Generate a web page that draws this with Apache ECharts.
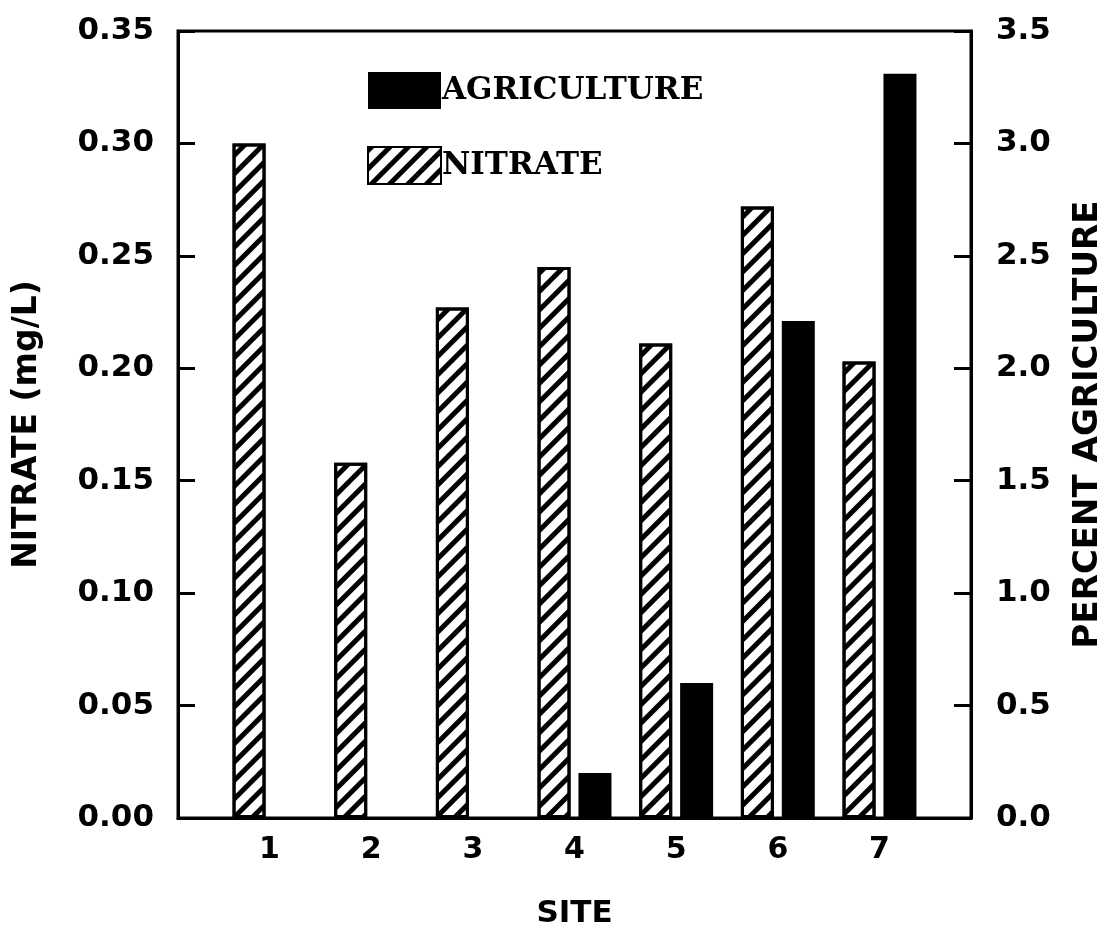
<!DOCTYPE html>
<html>
<head>
<meta charset="utf-8">
<script src="https://cdn.jsdelivr.net/npm/echarts@6/dist/echarts.min.js"></script>
<style>
  html, body { margin: 0; padding: 0; background: #fff; }
  #chart { width: 1113px; height: 934px; }
</style>
</head>
<body>
<div id="chart"></div>
<script>
var sites = [1, 2, 3, 4, 5, 6, 7];
var nitrate = [0.30, 0.158, 0.227, 0.245, 0.211, 0.272, 0.203];
var agriculture = [0, 0, 0, 0.2, 0.6, 2.21, 3.31];

var sansFont = 'DejaVu Sans';
var serifFont = 'DejaVu Serif';

var myChart = echarts.init(document.getElementById('chart'));

var hatch = {
    symbol: 'rect',
    symbolSize: 1,
    color: '#000',
    dashArrayX: [1, 0],
    dashArrayY: [5, 8],
    rotation: -Math.PI / 4
};

option = {
    backgroundColor: '#fff',
    animation: false,
    grid: {
        left: 178,
        right: 133,
        top: 31,
        bottom: 108,
        show: true,
        borderColor: '#000',
        borderWidth: 3
    },
    legend: {
        orient: 'vertical',
        left: 362,
        top: 67,
        icon: 'rect',
        itemWidth: 73,
        itemHeight: 37,
        itemGap: 37,
        data: ['AGRICULTURE', 'NITRATE'],
        textStyle: {
            fontFamily: serifFont,
            fontWeight: 'bold',
            fontSize: 31,
            color: '#000',
            padding: [0, 0, 0, -4]
        }
    },
    xAxis: {
        type: 'value',
        min: 0.1,
        max: 7.9,
        name: 'SITE',
        nameLocation: 'middle',
        nameGap: 80,
        nameTextStyle: { fontFamily: sansFont, fontWeight: 'bold', fontSize: 31, color: '#000' },
        axisLine: { lineStyle: { color: '#000', width: 3 } },
        axisTick: { show: false },
        splitLine: { show: false },
        axisLabel: {
            customValues: sites,
            margin: 17,
            fontFamily: sansFont,
            fontWeight: 'bold',
            fontSize: 30,
            color: '#000'
        }
    },
    yAxis: [
        {
            type: 'value',
            position: 'left',
            min: 0,
            max: 0.35,
            interval: 0.05,
            name: 'NITRATE (mg/L)',
            nameLocation: 'middle',
            nameGap: 134,
            nameTextStyle: { fontFamily: sansFont, fontWeight: 'bold', fontSize: 33, color: '#000' },
            axisLine: { show: true, lineStyle: { color: '#000', width: 3 } },
            axisTick: { show: true, inside: true, length: 17, lineStyle: { color: '#000', width: 3 } },
            splitLine: { show: false },
            axisLabel: {
                margin: 24,
                formatter: function (v) { return v.toFixed(2); },
                fontFamily: sansFont,
                fontWeight: 'bold',
                fontSize: 31,
                color: '#000'
            }
        },
        {
            type: 'value',
            position: 'right',
            min: 0,
            max: 3.5,
            interval: 0.5,
            name: 'PERCENT AGRICULTURE',
            nameLocation: 'middle',
            nameGap: 100,
            nameRotate: 90,
            nameTextStyle: { fontFamily: sansFont, fontWeight: 'bold', fontSize: 34, color: '#000' },
            axisLine: { show: true, lineStyle: { color: '#000', width: 3 } },
            axisTick: { show: true, inside: true, length: 17, lineStyle: { color: '#000', width: 3 } },
            splitLine: { show: false },
            axisLabel: {
                margin: 25,
                formatter: function (v) { return v.toFixed(1); },
                fontFamily: sansFont,
                fontWeight: 'bold',
                fontSize: 31,
                color: '#000'
            }
        }
    ],
    series: [
        {
            name: 'NITRATE',
            type: 'bar',
            yAxisIndex: 0,
            barWidth: 33,
            barGap: '24%',
            itemStyle: {
                color: '#fff',
                borderColor: '#000',
                borderWidth: 3,
                decal: hatch
            },
            data: sites.map(function (s, i) { return [s, nitrate[i]]; })
        },
        {
            name: 'AGRICULTURE',
            type: 'bar',
            yAxisIndex: 1,
            barWidth: 33,
            barGap: '24%',
            itemStyle: { color: '#000' },
            data: sites.map(function (s, i) { return [s, agriculture[i]]; })
        }
    ]
};
myChart.setOption(option);
</script>
</body>
</html>
